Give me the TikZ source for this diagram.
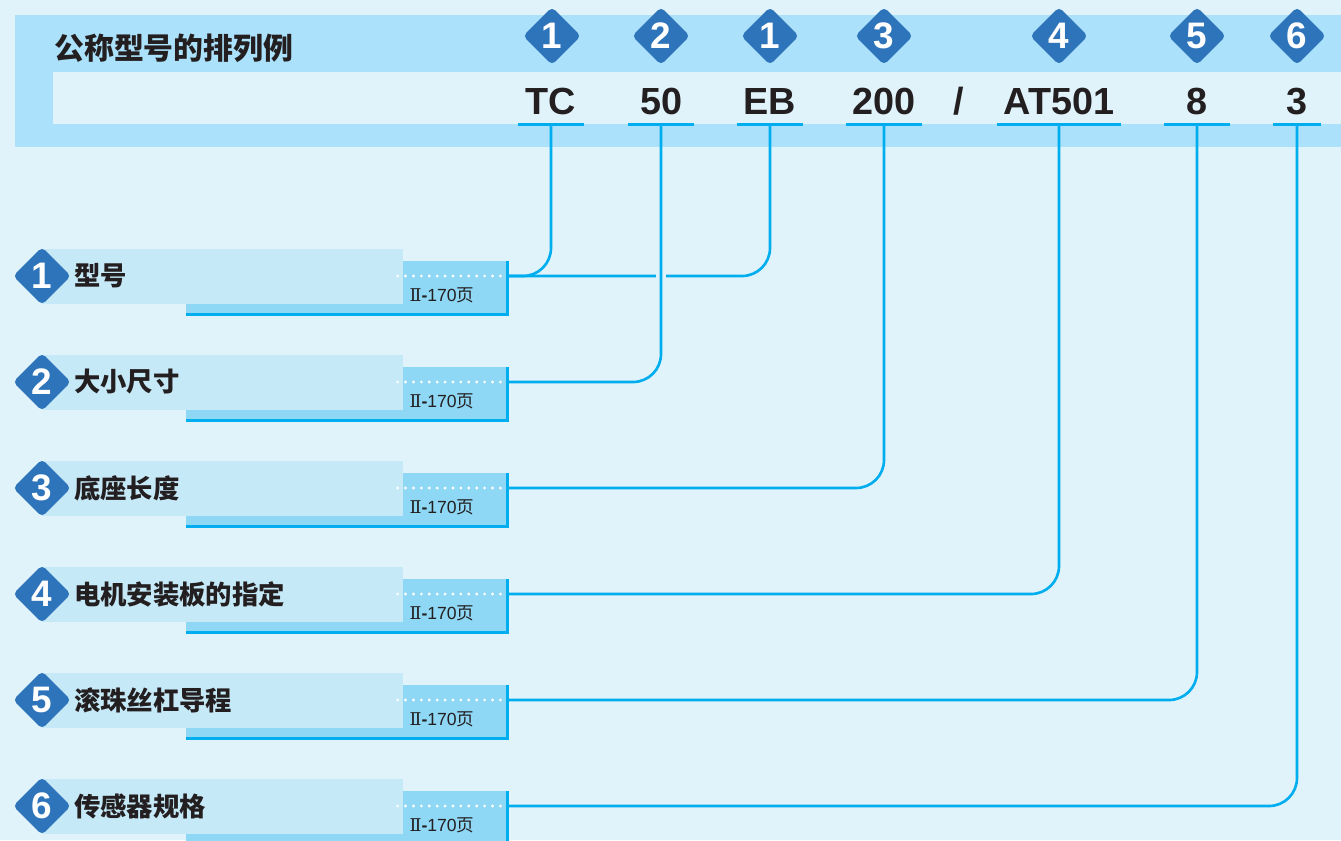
\documentclass[tikz,border=0pt]{standalone}
\usepackage{fontspec}
\setmainfont{Liberation Sans}
\newfontfamily\cjk{Noto Sans CJK SC}
\newfontfamily\numeral{DejaVu Serif}
\usetikzlibrary{shapes.geometric}
\usetikzlibrary{positioning}
\definecolor{bgblue}{HTML}{E0F3FB}
\definecolor{bandblue}{HTML}{ABE1FA}
\definecolor{lightbox}{HTML}{C6E9F8}
\definecolor{darkbox}{HTML}{8ED7F5}
\definecolor{lineblue}{HTML}{00AEEF}
\definecolor{diamondblue}{HTML}{2E74BA}
\definecolor{textdark}{HTML}{231F20}
\tikzstyle{numdiamond}=[diamond, fill=diamondblue, text=white, minimum width=1.16cm, minimum height=1.16cm, inner sep=0pt, rounded corners=2.5pt, font=\bfseries\fontsize{21}{21}\selectfont]
\tikzstyle{codetext}=[anchor=south, inner xsep=0pt, inner ysep=5pt, text=textdark, font=\bfseries\fontsize{21.5}{21.5}\selectfont]
\tikzstyle{uline}=[draw=lineblue, line width=1.7pt]
\tikzstyle{conn}=[draw=lineblue, line width=1.5pt, rounded corners=0.56cm]
\tikzstyle{gapline}=[draw=bgblue, line width=0.2cm]
\tikzstyle{lightrow}=[fill=lightbox, anchor=west, minimum width=7.22cm, minimum height=1.1cm, inner sep=0pt]
\tikzstyle{darkrow}=[fill=darkbox, minimum width=6.42cm, minimum height=1.06cm, inner sep=0pt]
\tikzstyle{rowline}=[draw=lineblue, line width=1.6pt]
\tikzstyle{dotline}=[draw=white, line width=1.8pt, line cap=round, dash pattern=on 0pt off 4.5pt]
\tikzstyle{rowlabel}=[anchor=west, inner sep=0pt, text=textdark, font=\cjk\bfseries\fontsize{15}{15}\selectfont]
\tikzstyle{pagetext}=[inner sep=0pt, text=textdark, font=\fontsize{10}{10}\selectfont]

\begin{document}
\begin{tikzpicture}[x=0.02cm, y=-0.02cm]
          \useasboundingbox (0,0) rectangle (1341,840);
          \clip (0,0) rectangle (1341,840);
          \fill[bgblue] (0,0) rectangle (1341,840);
          \fill[bandblue] (15,15) rectangle (1341,147);
          \fill[bgblue] (53,72) rectangle (1341,124);
          \node[anchor=west, inner sep=0pt, text=textdark, font=\cjk\bfseries\fontsize{17}{17}\selectfont] (title) at (54,48){公称型号的排列例};
          % numbered code
          \node[numdiamond] (nTC) at (552,36){1};
          \node[numdiamond] (n50) at (661,36){2};
          \node[numdiamond] (nEB) at (770,36){1};
          \node[numdiamond] (n200) at (884,36){3};
          \node[numdiamond] (nAT) at (1059,36){4};
          \node[numdiamond] (n8) at (1197,36){5};
          \node[numdiamond] (n3) at (1297,36){6};
          \node[codetext, minimum width=1.32cm] (cTC) at (551,124){TC};
          \node[codetext, minimum width=1.3cm] (c50) at (661,124){50};
          \node[codetext, minimum width=1.32cm] (cEB) at (770,124){EB};
          \node[codetext, minimum width=1.52cm] (c200) at (884,124){200};
          \node[codetext] (slash) at (959,124){/};
          \node[codetext, minimum width=2.46cm] (cAT) at (1059,124){AT501};
          \node[codetext, minimum width=1.32cm] (c8) at (1197,124){8};
          \node[codetext, minimum width=0.94cm] (c3) at (1297,124){3};
          \draw[uline](cTC.south west) -- (cTC.south east);
          \draw[uline](c50.south west) -- (c50.south east);
          \draw[uline](cEB.south west) -- (cEB.south east);
          \draw[uline](c200.south west) -- (c200.south east);
          \draw[uline](cAT.south west) -- (cAT.south east);
          \draw[uline](c8.south west) -- (c8.south east);
          \draw[uline](c3.south west) -- (c3.south east);
          % rows
          \node[darkrow] (p1) at (346.5,287.5){};
          \node[darkrow] (p2) at (346.5,393.5){};
          \node[darkrow] (p3) at (346.5,499.5){};
          \node[darkrow] (p4) at (346.5,605.5){};
          \node[darkrow] (p5) at (346.5,711.5){};
          \node[darkrow] (p6) at (346.5,817.5){};
          \node[lightrow] (r1) at (42,276){};
          \node[lightrow] (r2) at (42,382){};
          \node[lightrow] (r3) at (42,488){};
          \node[lightrow] (r4) at (42,594){};
          \node[lightrow] (r5) at (42,700){};
          \node[lightrow] (r6) at (42,806){};
          \draw[rowline](p1.south west) -- (p1.south east) -- (p1.north east);
          \draw[rowline](p2.south west) -- (p2.south east) -- (p2.north east);
          \draw[rowline](p3.south west) -- (p3.south east) -- (p3.north east);
          \draw[rowline](p4.south west) -- (p4.south east) -- (p4.north east);
          \draw[rowline](p5.south west) -- (p5.south east) -- (p5.north east);
          \draw[rowline](p6.south west) -- (p6.south east) -- (p6.north east);
          \coordinate (o1) at (r1.east -| p1.east);
          \coordinate (o2) at (r2.east -| p2.east);
          \coordinate (o3) at (r3.east -| p3.east);
          \coordinate (o4) at (r4.east -| p4.east);
          \coordinate (o5) at (r5.east -| p5.east);
          \coordinate (o6) at (r6.east -| p6.east);
          \draw[dotline]([xshift=-0.12cm]r1.east) -- (o1);
          \draw[dotline]([xshift=-0.12cm]r2.east) -- (o2);
          \draw[dotline]([xshift=-0.12cm]r3.east) -- (o3);
          \draw[dotline]([xshift=-0.12cm]r4.east) -- (o4);
          \draw[dotline]([xshift=-0.12cm]r5.east) -- (o5);
          \draw[dotline]([xshift=-0.12cm]r6.east) -- (o6);
          \node[pagetext] (g1) at (442,295){{\numeral Ⅱ}\textbf{-}170{\cjk 页}};
          \node[pagetext] (g2) at (442,401){{\numeral Ⅱ}\textbf{-}170{\cjk 页}};
          \node[pagetext] (g3) at (442,507){{\numeral Ⅱ}\textbf{-}170{\cjk 页}};
          \node[pagetext] (g4) at (442,613){{\numeral Ⅱ}\textbf{-}170{\cjk 页}};
          \node[pagetext] (g5) at (442,719){{\numeral Ⅱ}\textbf{-}170{\cjk 页}};
          \node[pagetext] (g6) at (442,825){{\numeral Ⅱ}\textbf{-}170{\cjk 页}};
          \node[numdiamond] (d1) at (42,276){1};
          \node[numdiamond] (d2) at (42,382){2};
          \node[numdiamond] (d3) at (42,488){3};
          \node[numdiamond] (d4) at (42,594){4};
          \node[numdiamond] (d5) at (42,700){5};
          \node[numdiamond] (d6) at (42,806){6};
          \node[rowlabel, right=0.05cm of d1] (l1){型号};
          \node[rowlabel, right=0.05cm of d2] (l2){大小尺寸};
          \node[rowlabel, right=0.05cm of d3] (l3){底座长度};
          \node[rowlabel, right=0.05cm of d4] (l4){电机安装板的指定};
          \node[rowlabel, right=0.05cm of d5] (l5){滚珠丝杠导程};
          \node[rowlabel, right=0.05cm of d6] (l6){传感器规格};
          % connectors
          \draw[conn](o1) -| (cTC.south);
          \draw[conn](o1) -| (cEB.south);
          \coordinate (x1) at (c50.south |- o1);
          \draw[gapline]([yshift=0.08cm]x1) -- ([yshift=-0.08cm]x1);
          \draw[conn](o2) -| (c50.south);
          \draw[conn](o3) -| (c200.south);
          \draw[conn](o4) -| (cAT.south);
          \draw[conn](o5) -| (c8.south);
          \draw[conn](o6) -| (c3.south);
        \end{tikzpicture}
\end{document}
